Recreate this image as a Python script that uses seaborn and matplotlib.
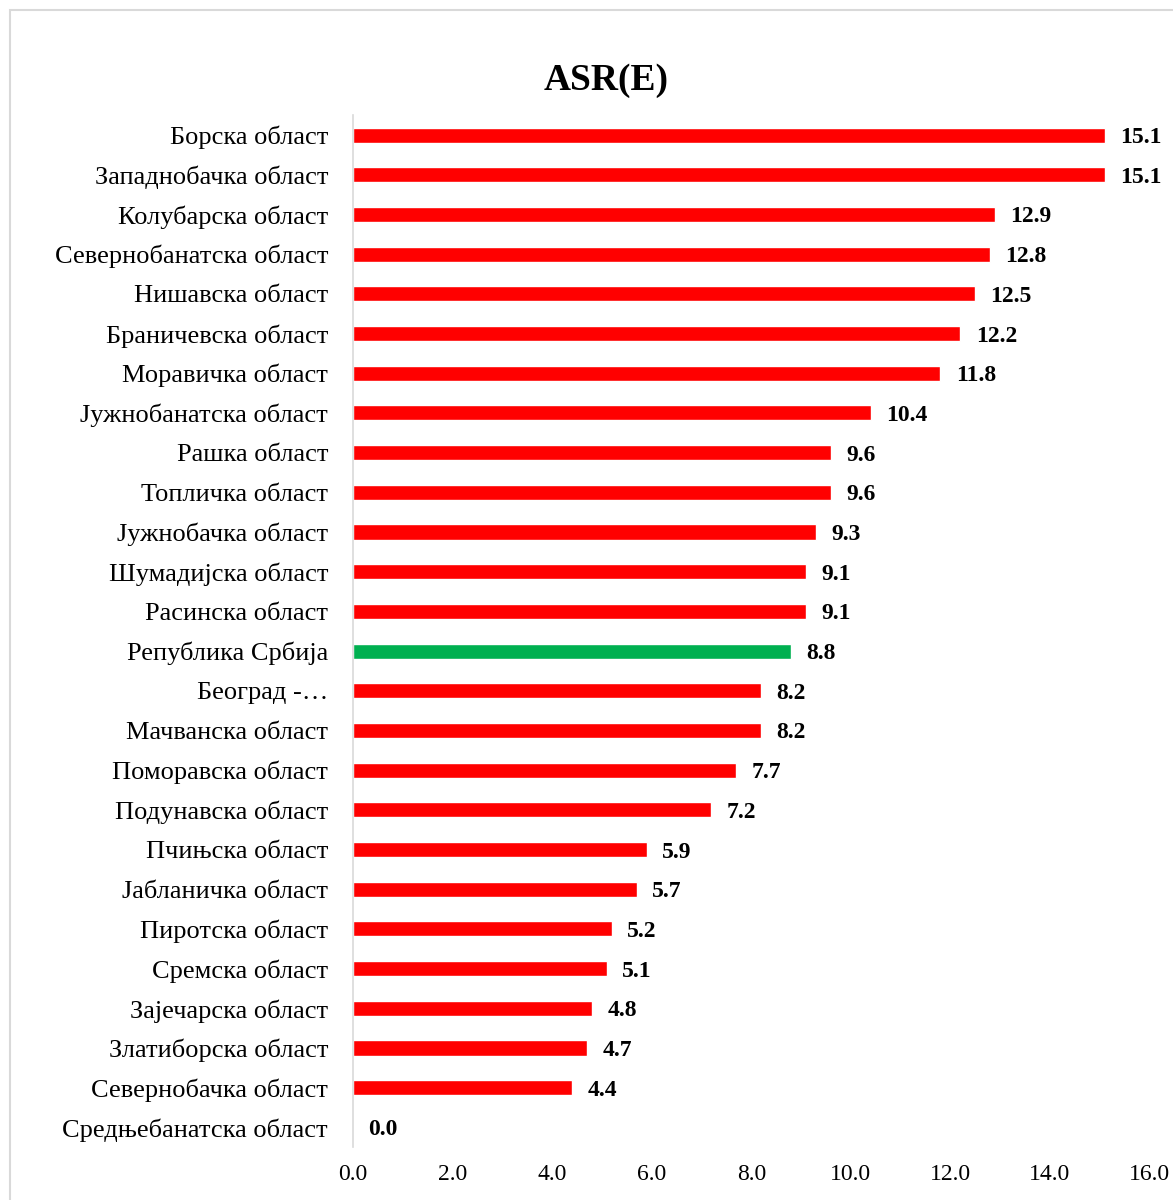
import matplotlib.pyplot as plt
import seaborn as sns
import pandas as pd
from matplotlib.patches import Rectangle

# data
regions = [
    "Борска област", "Западнобачка област", "Колубарска област",
    "Севернобанатска област", "Нишавска област", "Браничевска област",
    "Моравичка област", "Јужнобанатска област", "Рашка област",
    "Топличка област", "Јужнобачка област", "Шумадијска област",
    "Расинска област", "Република Србија", "Београд -…",
    "Мачванска област", "Поморавска област", "Подунавска област",
    "Пчињска област", "Јабланичка област", "Пиротска област",
    "Сремска област", "Зајечарска област", "Златиборска област",
    "Севернобачка област", "Средњебанатска област",
]
asr = [15.1, 15.1, 12.9, 12.8, 12.5, 12.2, 11.8, 10.4, 9.6, 9.6, 9.3, 9.1,
       9.1, 8.8, 8.2, 8.2, 7.7, 7.2, 5.9, 5.7, 5.2, 5.1, 4.8, 4.7, 4.4, 0.0]
highlight = "Република Србија"

df = pd.DataFrame({"region": regions, "asr": asr})
df["group"] = ["total" if r == highlight else "region" for r in regions]

sns.set_theme(style="white")
plt.rcParams['font.family'] = ['Liberation Serif', 'DejaVu Serif']
plt.rcParams['text.color'] = 'black'
plt.rcParams['xtick.color'] = 'black'
plt.rcParams['ytick.color'] = 'black'

fig = plt.figure(figsize=(11.73, 12), dpi=100)
ax = fig.add_axes([0.301, 0.044, 0.679, 0.86])

sns.barplot(data=df, y="region", x="asr", hue="group", orient="h",
            palette={"region": "#ff0000", "total": "#00b050"},
            width=0.38, dodge=False, legend=False, saturation=1, ax=ax)

for i, v in enumerate(asr):
    ax.annotate(f"{v:.1f}", xy=(v, i), xytext=(11, 0), textcoords="offset points",
                va="center_baseline", ha="left", fontsize=17, fontweight="bold")

ax.set_xlim(0, 16)
ax.set_ylim(len(regions) - 0.5, -0.5)
ax.set_xticks(range(0, 17, 2))
ax.set_xticklabels([f"{t:.1f}" for t in range(0, 17, 2)], fontsize=17)
ax.tick_params(axis="y", labelsize=19, length=0, pad=18)
ax.tick_params(axis="x", length=0, pad=12)
ax.set_xlabel("")
ax.set_ylabel("")
for s in ["top", "right", "bottom"]:
    ax.spines[s].set_visible(False)
ax.spines["left"].set_color("#d9d9d9")
ax.spines["left"].set_linewidth(1.2)

fig.text(0.517, 0.933, "ASR(E)", ha="center", va="center",
         fontsize=27, fontweight="bold")

fig.patches.append(Rectangle((10 / 1173, -0.1), 1.2, 1.1 - 10 / 1200,
                             transform=fig.transFigure, fill=False,
                             edgecolor="#d9d9d9", linewidth=1.5))

fig.savefig("out.png", dpi=100)
